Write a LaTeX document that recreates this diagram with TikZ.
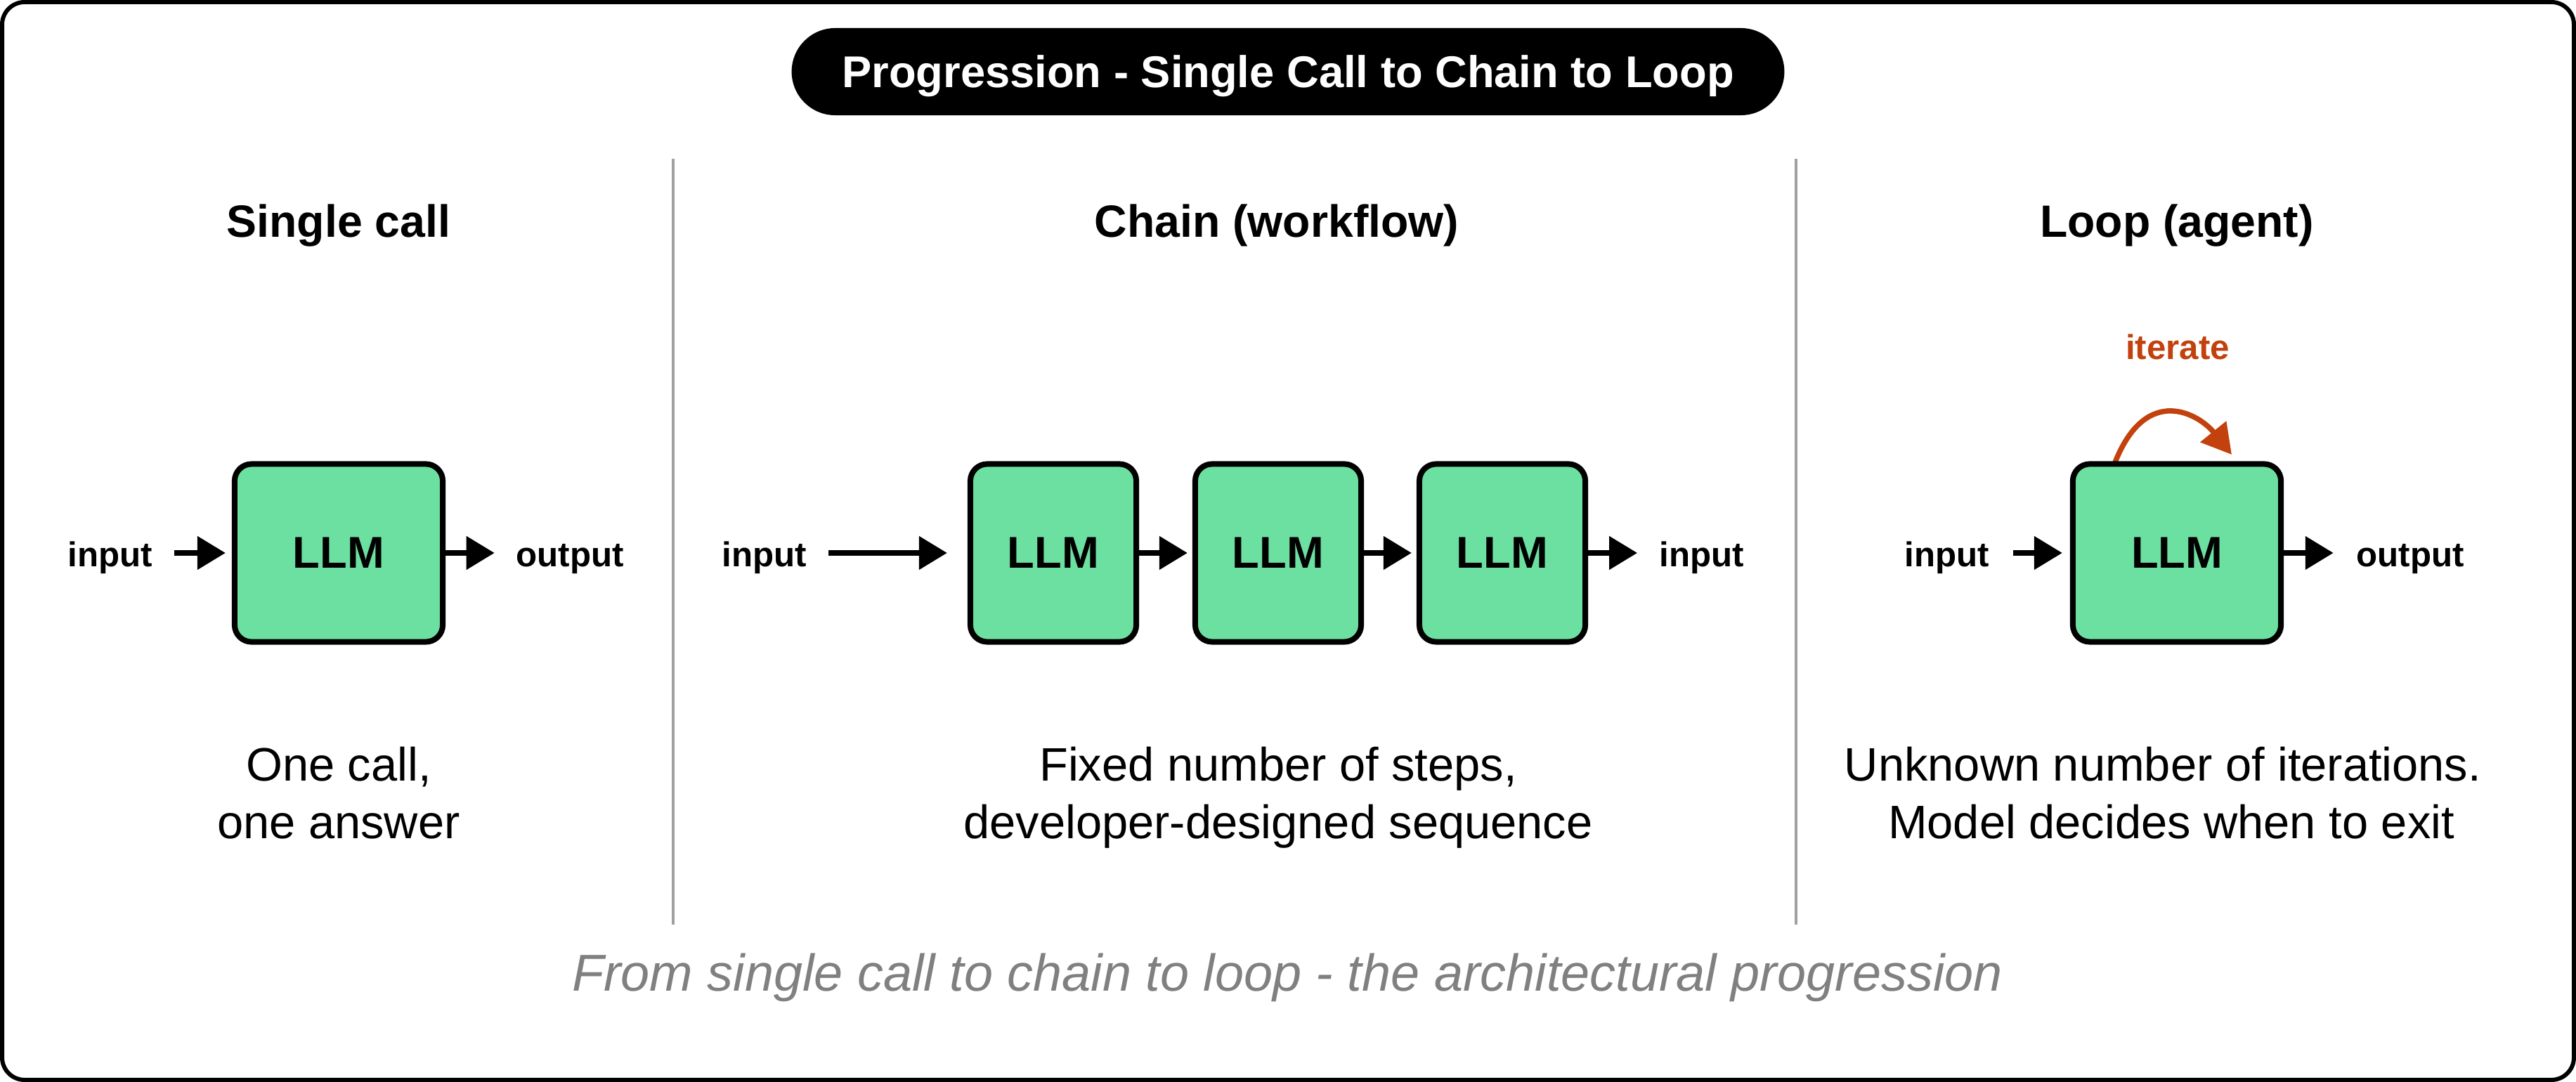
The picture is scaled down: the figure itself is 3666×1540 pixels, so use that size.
\documentclass[tikz,border=0pt]{standalone}
\usepackage{fontspec}
\setmainfont{Liberation Sans}
\usetikzlibrary{arrows.meta,positioning}
\definecolor{llmgreen}{RGB}{108,224,160}
\definecolor{iterorange}{RGB}{194,65,12}
\definecolor{rulegray}{RGB}{160,160,160}
\definecolor{notegray}{RGB}{128,128,128}
\tikzset{
  llm/.style={draw, line width=0.08cm, fill=llmgreen, rounded corners=0.24cm,
    minimum width=2.96cm, minimum height=2.53cm, font=\bfseries\fontsize{18}{22}\selectfont},
  flow/.style={-{Triangle[length=0.4cm,width=0.46cm]}, line width=0.08cm},
  lbl/.style={font=\bfseries\fontsize{14}{17}\selectfont, anchor=base, inner sep=0pt},
  head/.style={font=\bfseries\fontsize{18.3}{22}\selectfont, anchor=base},
  desc/.style={font=\fontsize{19}{23}\selectfont, anchor=base},
}

\begin{document}
\begin{tikzpicture}[x=0.01cm, y=-0.01cm]
\useasboundingbox (0,0) rectangle (3666,1540);
\draw[line width=0.06cm, rounded corners=0.32cm] (3,3) rectangle (3663,1537);
% title
\node[fill=black, text=white, rounded corners=0.62cm, minimum width=14.12cm, minimum height=1.24cm,
  text height=0.45cm, text depth=0pt, font=\bfseries\fontsize{18}{22}\selectfont]
  (title) at (1833,102) {Progression - Single Call to Chain to Loop};
% dividers
\draw[rulegray, line width=0.04cm] (958,226) -- (958,1316);
\draw[rulegray, line width=0.04cm] (2556,226) -- (2556,1316);
% headings
\node[head] (hSingle) at (482,338) {Single call};
\node[head] (hChain) at (1817,338) {Chain (workflow)};
\node[head] (hLoop) at (3098,338) {Loop (agent)};

% single call
\node[llm] (single) at (482,787) {LLM};
\node[lbl] (sIn) at (157,807) {input};
\node[lbl] (sOut) at (811,807) {output};
\draw[flow, shorten <=0.3cm, shorten >=0.09cm] (sIn.east |- single.west) -- (single.west);
\draw[flow, shorten >=0.3cm] (single.east) -- (sOut.west |- single.east);

% chain
\foreach \i/\x in {1/1499,2/1819,3/2138}
  \node[llm, minimum width=2.36cm] (c\i) at (\x,787) {LLM};
\node[lbl] (cIn) at (1088,807) {input};
\node[lbl] (cOut) at (2422,807) {input};
\draw[flow, shorten <=0.3cm, shorten >=0.29cm] (cIn.east |- c1.west) -- (c1.west);
\foreach \i/\j in {1/2,2/3}
  \draw[flow, shorten >=0.07cm] (c\i.east) -- (c\j.west);
\draw[flow, shorten >=0.31cm] (c3.east) -- (cOut.west |- c3.east);

% loop
\coordinate (itA) at (3010,658);
\coordinate (itB) at (3176,647);
\draw[iterorange, line width=0.075cm, -{Triangle[length=0.42cm,width=0.46cm]}]
  (itA) .. controls (3055,545) and (3130,590) .. (itB);
\node[llm] (loop) at (3098,787) {LLM};
\node[lbl] (lIn) at (2771,807) {input};
\node[lbl] (lOut) at (3430,807) {output};
\node[lbl, text=iterorange] (iter) at (3099,512) {iterate};
\draw[flow, shorten <=0.33cm, shorten >=0.11cm] (lIn.east |- loop.west) -- (loop.west);
\draw[flow, shorten >=0.32cm] (loop.east) -- (lOut.west |- loop.east);

% notes
\node[desc] (dSingleA) at (482,1111) {One call,};
\node[desc] (dSingleB) at (482,1193) {one answer};
\node[desc] (dChainA) at (1819,1111) {Fixed number of steps,};
\node[desc] (dChainB) at (1819,1193) {developer-designed sequence};
\node[desc] (dLoopA) at (3078,1111) {Unknown number of iterations.};
\node[desc] (dLoopB) at (3090,1193) {Model decides when to exit};
\node[font=\itshape\fontsize{21}{25}\selectfont, text=notegray, anchor=base] (note) at (1832,1410)
  {From single call to chain to loop - the architectural progression};
\end{tikzpicture}
\end{document}
